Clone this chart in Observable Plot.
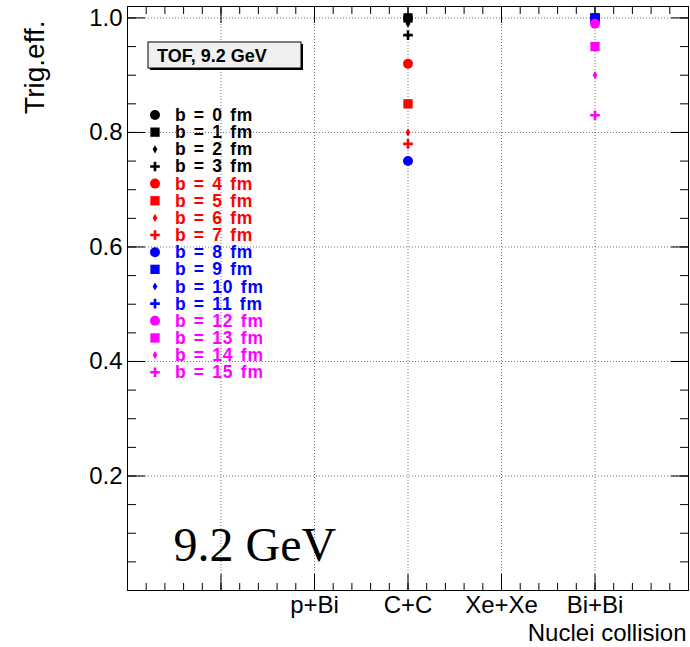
<!DOCTYPE html>
<html>
<head>
<meta charset="utf-8">
<script src="https://cdn.jsdelivr.net/npm/d3@7"></script>
<script src="https://cdn.jsdelivr.net/npm/@observablehq/plot@0.6"></script>
<style>
  body { margin: 0; background: #fff; }
  #chart svg { display: block; }
</style>
</head>
<body>
<div id="chart"></div>
<script>
// TOF trigger efficiency at 9.2 GeV for several colliding systems,
// one series per impact parameter b.
const collisions = ["p+Bi", "C+C", "Xe+Xe", "Bi+Bi"];
const collisionPos = [2, 3, 4, 5];
const impactParams = [0, 1, 2, 3, 4, 5, 6, 7, 8, 9, 10, 11, 12, 13, 14, 15];
const effCC =   [1.00, 1.00, 0.99, 0.97, 0.92, 0.85, 0.80, 0.78, 0.75, null, null, null, null, null, null, null];
const effBiBi = [1.00, 1.00, 1.00, 1.00, 1.00, 1.00, 1.00, 1.00, 1.00, 1.00, 1.00, 1.00, 0.99, 0.95, 0.90, 0.83];
const yTickLabels = [0.2, 0.4, 0.6, 0.8, 1.0];

// styling: colour per group of four b values, marker per position in the group
const groupColors = ["#000000", "#ff0000", "#0000ff", "#ff00ff"];
const markerSymbols = ["circle", "square", "diamond", "plus"];
const markerD3 = [d3.symbolCircle, d3.symbolSquare, d3.symbolDiamond, d3.symbolPlus];
const markerR = [5, 5.25, 2.5, 3.2];

const W = 690, H = 647;
const ML = 127, MR = 2, MT = 6, MB = 57;
const innerW = W - ML - MR, innerH = H - MT - MB;

const rows = impactParams.flatMap((b, i) => [
  {collision: "C+C", b, eff: effCC[i]},
  {collision: "Bi+Bi", b, eff: effBiBi[i]}
]).filter(d => d.eff != null);

const xOf = d => collisionPos[collisions.indexOf(d.collision)];

const yMinor = d3.range(1, 21).map(i => +(i * 0.05).toFixed(2));
const xMinor = d3.range(1, 30).map(i => +(i * 0.2).toFixed(1));
const xMajor = [1, 2, 3, 4, 5];

const gridStyle = {stroke: "#000", strokeOpacity: 0.55, strokeDasharray: "1,2"};
const tickStyle = {fill: "none", label: null, stroke: "#000"};

// one dot mark per impact parameter so that later series sit on top
const dotMarks = impactParams.map(b => {
  const k = b % 4;
  const color = groupColors[Math.floor(b / 4)];
  const isStroke = markerSymbols[k] === "plus";
  return Plot.dot(rows.filter(d => d.b === b), {
    x: xOf, y: "eff",
    symbol: markerSymbols[k], r: markerR[k],
    fill: isStroke ? "none" : color,
    stroke: isStroke ? color : "none",
    strokeWidth: isStroke ? 2.6 : 0
  });
});

const chart = Plot.plot({
  width: W, height: H,
  marginLeft: ML, marginRight: MR, marginTop: MT, marginBottom: MB,
  style: {fontFamily: "'Liberation Sans', Arial, sans-serif", fontSize: "24px", background: "#fff", color: "#000"},
  x: {domain: [0, 6], label: null},
  y: {domain: [0, 1.02], label: null},
  marks: [
    Plot.gridY(yTickLabels, gridStyle),
    Plot.gridX(xMajor, gridStyle),
    // ticks drawn inside the frame on all four sides
    Plot.axisY(yMinor, {...tickStyle, anchor: "right", dx: -innerW, tickSize: 8}),
    Plot.axisY(yTickLabels, {...tickStyle, anchor: "right", dx: -innerW, tickSize: 17}),
    Plot.axisY(yMinor, {...tickStyle, anchor: "left", dx: innerW, tickSize: 8}),
    Plot.axisY(yTickLabels, {...tickStyle, anchor: "left", dx: innerW, tickSize: 17}),
    Plot.axisX(xMinor, {...tickStyle, anchor: "top", dy: innerH, tickSize: 8}),
    Plot.axisX(xMajor, {...tickStyle, anchor: "top", dy: innerH, tickSize: 17}),
    Plot.axisX(xMinor, {...tickStyle, anchor: "bottom", dy: -innerH, tickSize: 8}),
    Plot.axisX(xMajor, {...tickStyle, anchor: "bottom", dy: -innerH, tickSize: 17}),
    // tick labels
    Plot.axisY(yTickLabels, {anchor: "left", tickSize: 0, tickPadding: 5, label: null,
      tickFormat: d3.format(".1f"), fontSize: 24}),
    Plot.axisX(collisionPos, {anchor: "bottom", tickSize: 0, tickPadding: 5, label: null,
      tickFormat: d => collisions[collisionPos.indexOf(d)], fontSize: 24}),
    // axis titles and energy tag
    Plot.text(["Trig.eff."], {text: d => d, frameAnchor: "top-left", rotate: -90,
      textAnchor: "end", lineAnchor: "bottom", dx: -84, dy: 14, fontSize: 28}),
    Plot.text(["Nuclei collision"], {text: d => d, frameAnchor: "bottom-right",
      textAnchor: "end", lineAnchor: "bottom", dx: -2, dy: 50, fontSize: 24}),
    Plot.text(["9.2 GeV"], {text: d => d, frameAnchor: "bottom-left",
      textAnchor: "start", lineAnchor: "bottom", dx: 46, dy: -30,
      fontSize: 48, fontFamily: "'Liberation Serif', 'Times New Roman', serif"}),
    Plot.frame({stroke: "#000"}),
    ...dotMarks
  ]
});

document.getElementById("chart").append(chart);

// header box and marker legend
const svg = d3.select(chart);
const box = svg.append("g").attr("text-anchor", "start");
box.append("rect").attr("x", 150).attr("y", 44).attr("width", 153).attr("height", 26).attr("fill", "#000");
box.append("rect").attr("x", 148).attr("y", 42).attr("width", 153).attr("height", 26)
  .attr("fill", "#f0f0f0").attr("stroke", "#000").attr("stroke-width", 1);
box.append("text").attr("x", 157).attr("y", 61.5)
  .attr("font-family", "'Liberation Sans', Arial, sans-serif").attr("font-weight", "bold")
  .attr("font-size", 18).attr("fill", "#000").text("TOF, 9.2 GeV");

const legend = svg.append("g").attr("text-anchor", "start");
impactParams.forEach((b, i) => {
  const k = b % 4;
  const color = groupColors[Math.floor(b / 4)];
  const cy = 115 + i * 17.15;
  const isStroke = markerSymbols[k] === "plus";
  legend.append("path")
    .attr("transform", `translate(155,${cy})`)
    .attr("d", d3.symbol(markerD3[k], Math.PI * markerR[k] * markerR[k])())
    .attr("fill", isStroke ? "none" : color)
    .attr("stroke", isStroke ? color : "none")
    .attr("stroke-width", isStroke ? 2.6 : 0);
  legend.append("text")
    .attr("x", 175).attr("y", cy + 6)
    .attr("font-family", "'Liberation Sans', Arial, sans-serif").attr("font-weight", "bold")
    .attr("font-size", 17.5).attr("letter-spacing", 0.9).attr("word-spacing", 1.5)
    .attr("fill", color)
    .text(`b = ${b} fm`);
});
</script>
</body>
</html>
